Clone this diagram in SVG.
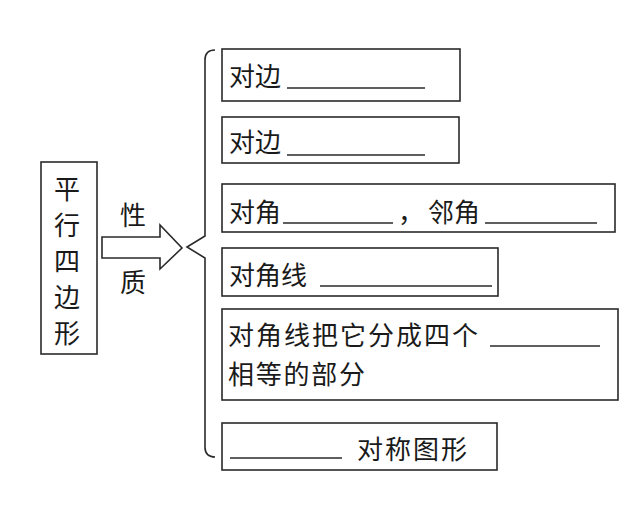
<svg xmlns="http://www.w3.org/2000/svg" width="642" height="511" viewBox="0 0 642 511">
<style>
.box{fill:none;stroke:#2a2a2a;stroke-width:1.6}
.t{font-family:"Noto Sans CJK SC","Noto Sans",sans-serif;font-size:26px;fill:#1a1a1a}
.u{stroke:#2a2a2a;stroke-width:1.3}
.c{fill:none;stroke:#2a2a2a;stroke-width:1.6;stroke-linejoin:miter}
</style>
<rect width="642" height="511" fill="#fff"/>
<g id="root">
<rect class="box" x="41" y="162" width="56" height="192"/>
<text class="t" x="67" y="199" text-anchor="middle">平</text>
<text class="t" x="67" y="235" text-anchor="middle">行</text>
<text class="t" x="67" y="271" text-anchor="middle">四</text>
<text class="t" x="67" y="307" text-anchor="middle">边</text>
<text class="t" x="67" y="343" text-anchor="middle">形</text>
</g>
<g id="connectors">
<polygon class="c" points="102,237 160,237 160,225 182,248 160,269 160,258 102,258"/>
<text class="t" x="133" y="225" text-anchor="middle">性</text>
<text class="t" x="133" y="292" text-anchor="middle">质</text>
<path class="c" d="M215,50 Q205,50 205,60 L205,236 L187,247 L205,258 L205,447 Q205,457 215,457"/>
</g>
<g id="n1">
<rect class="box" x="222" y="49" width="238" height="52"/>
<text class="t" x="229" y="86">对边</text>
<line class="u" x1="287" y1="88" x2="425" y2="88"/>
</g>
<g id="n2">
<rect class="box" x="222" y="117" width="237" height="46"/>
<text class="t" x="229" y="152">对边</text>
<line class="u" x1="287" y1="155" x2="425" y2="155"/>
</g>
<g id="n3">
<rect class="box" x="222" y="184" width="393" height="48"/>
<text class="t" x="229" y="222">对角</text>
<line class="u" x1="283" y1="223" x2="393" y2="223"/>
<text class="t" x="398" y="222">，</text>
<text class="t" x="428" y="222">邻角</text>
<line class="u" x1="485" y1="223" x2="597" y2="223"/>
</g>
<g id="n4">
<rect class="box" x="222" y="248" width="276" height="48"/>
<text class="t" x="229" y="285">对角线</text>
<line class="u" x1="320" y1="286" x2="492" y2="286"/>
</g>
<g id="n5">
<rect class="box" x="222" y="309" width="396" height="91"/>
<text class="t" x="228" y="345" textLength="250">对角线把它分成四个</text>
<line class="u" x1="490" y1="346" x2="600" y2="346"/>
<text class="t" x="228" y="384" textLength="137">相等的部分</text>
</g>
<g id="n6">
<rect class="box" x="222" y="423" width="275" height="47"/>
<line class="u" x1="230" y1="458" x2="342" y2="458"/>
<text class="t" x="357" y="459" textLength="110">对称图形</text>
</g>
</svg>
